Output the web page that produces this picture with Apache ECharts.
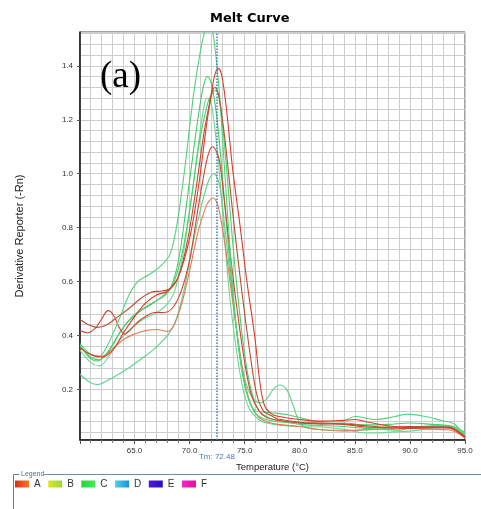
<!DOCTYPE html>
<html lang="en">
<head>
<meta charset="UTF-8">
<title>Melt Curve</title>
<script src="https://cdn.jsdelivr.net/npm/echarts@6/dist/echarts.min.js"></script>
<style>
  html, body { margin: 0; padding: 0; background: #fff; }
  #main { width: 481px; height: 509px; }
</style>
</head>
<body>
<div id="main"></div>
<script>
// legend entries (wells)
var wellNames = ['A', 'B', 'C', 'D', 'E', 'F'];
var tmValue = 72.48;

// melt curves, [temperature, derivative]
var curveA1 = [[60.05,0.355],[61,0.33],[62,0.32],[63,0.345],[64,0.41],[65,0.47],[66,0.52],[67,0.55],[68,0.565],[69,0.62],[70,0.76],[70.8,0.95],[71.5,1.17],[72.1,1.33],[72.35,1.375],[72.6,1.39],[72.85,1.375],[73.1,1.32],[73.4,1.22],[73.9,1.02],[74.6,0.8],[75.2,0.6],[75.9,0.4],[76.4,0.22],[76.8,0.14],[77.4,0.11],[78,0.1],[80,0.088],[82,0.082],[84,0.085],[85,0.088],[86,0.08],[88,0.065],[90,0.058],[92,0.06],[93.5,0.058],[95,0.025]];
var curveA2 = [[60.05,0.459],[60.8,0.44],[61.6,0.43],[62.5,0.44],[63.5,0.47],[64.5,0.5],[65.5,0.535],[66.5,0.56],[67.5,0.565],[68.3,0.575],[69,0.62],[69.8,0.75],[70.6,0.95],[71.3,1.15],[71.9,1.28],[72.1,1.31],[72.3,1.32],[72.5,1.31],[72.7,1.28],[73.2,1.13],[73.8,0.9],[74.4,0.68],[75,0.48],[75.6,0.3],[76.1,0.18],[76.7,0.12],[77.5,0.1],[78,0.09],[80,0.078],[82,0.075],[84,0.072],[86,0.065],[88,0.06],[90,0.062],[92,0.06],[93.5,0.06],[95,0.022]];
var curveA3 = [[60.05,0.418],[60.7,0.41],[61.4,0.425],[62,0.46],[62.6,0.492],[63.1,0.475],[63.6,0.43],[64.1,0.405],[64.6,0.42],[65.3,0.45],[66,0.47],[66.8,0.485],[67.6,0.485],[68.4,0.5],[69.2,0.56],[70,0.68],[70.8,0.88],[71.5,1.04],[71.8,1.085],[72.1,1.1],[72.4,1.085],[72.7,1.05],[73.1,0.92],[73.7,0.7],[74.3,0.5],[75,0.3],[75.6,0.18],[76.3,0.12],[77,0.095],[78,0.085],[80,0.075],[82,0.072],[84,0.07],[86,0.06],[88,0.058],[90,0.055],[92,0.058],[93.5,0.057],[95,0.02]];
var curveA4 = [[60.05,0.355],[61,0.33],[62,0.322],[63,0.35],[64,0.385],[65,0.405],[66,0.418],[67,0.422],[68,0.415],[68.6,0.44],[69.3,0.52],[70,0.64],[70.8,0.79],[71.5,0.88],[71.8,0.9],[72.1,0.91],[72.4,0.9],[72.7,0.86],[73.2,0.74],[73.8,0.56],[74.4,0.38],[75,0.23],[75.6,0.14],[76.3,0.095],[77,0.08],[78,0.07],[80,0.062],[82,0.05],[84,0.048],[86,0.05],[88,0.052],[90,0.055],[92,0.052],[93.5,0.05],[95,0.02]];
var curveC1 = [[60.05,0.37],[61,0.33],[61.7,0.32],[62.5,0.36],[63.5,0.45],[64.5,0.55],[65.3,0.6],[66.3,0.625],[67.3,0.655],[68.2,0.7],[68.8,0.8],[69.5,1.0],[70.35,1.29],[71,1.46],[71.5,1.545],[71.8,1.56],[72.2,1.5],[72.7,1.3],[73.2,1.0],[73.7,0.7],[74.2,0.45],[74.8,0.26],[75.4,0.16],[76,0.12],[76.8,0.115],[77.5,0.113],[79,0.105],[80.7,0.088],[82,0.08],[83.7,0.08],[85,0.099],[86.9,0.088],[88.5,0.098],[89.8,0.108],[91.3,0.1],[92.8,0.085],[94,0.072],[95,0.025]];
var curveC2 = [[60.05,0.36],[61,0.315],[61.6,0.305],[62.5,0.335],[63.5,0.4],[64.5,0.455],[65.5,0.49],[66.5,0.515],[67.5,0.545],[68.3,0.58],[69,0.68],[69.7,0.88],[70.4,1.1],[71,1.27],[71.35,1.34],[71.6,1.36],[71.85,1.35],[72.1,1.31],[72.5,1.2],[73.0,0.98],[73.5,0.74],[74.1,0.48],[74.7,0.28],[75.3,0.17],[76,0.11],[76.8,0.09],[78,0.08],[80,0.075],[82,0.072],[84,0.075],[86,0.068],[88,0.07],[90,0.075],[92,0.07],[93.5,0.065],[95,0.025]];
var curveC3 = [[60.05,0.345],[61,0.3],[61.8,0.287],[62.8,0.33],[63.8,0.39],[64.8,0.43],[65.8,0.46],[66.8,0.48],[67.8,0.51],[68.6,0.56],[69.4,0.7],[70.2,0.92],[70.9,1.14],[71.35,1.26],[71.6,1.28],[71.85,1.27],[72.1,1.23],[72.6,1.05],[73.1,0.8],[73.6,0.56],[74.2,0.36],[74.8,0.21],[75.4,0.13],[76.2,0.09],[77,0.075],[78,0.068],[80,0.062],[82,0.06],[84,0.052],[85.5,0.04],[87,0.038],[88.5,0.042],[90,0.045],[92,0.055],[93.5,0.06],[95,0.03]];
var curveC4 = [[60.05,0.256],[61,0.225],[61.6,0.218],[62.5,0.232],[63.5,0.255],[64.5,0.28],[65.5,0.31],[66.5,0.34],[67.3,0.37],[68,0.4],[68.7,0.45],[69.5,0.57],[70.3,0.74],[71,0.87],[71.6,0.96],[71.9,0.99],[72.2,1.0],[72.5,0.985],[72.8,0.94],[73.2,0.8],[73.8,0.58],[74.4,0.38],[75,0.24],[75.7,0.17],[76.4,0.15],[77,0.165],[77.6,0.2],[78.2,0.216],[78.8,0.2],[79.4,0.14],[80,0.075],[80.6,0.058],[82,0.05],[84,0.045],[86,0.05],[88,0.055],[90,0.06],[92,0.062],[93.5,0.062],[95,0.035]];
var curveC5 = [[60.05,0.365],[61,0.32],[61.8,0.31],[62.8,0.35],[63.8,0.42],[64.8,0.47],[65.8,0.5],[66.8,0.525],[67.8,0.55],[68.6,0.6],[69.4,0.72],[70.2,0.92],[70.9,1.12],[71.7,1.27],[72.1,1.3],[72.35,1.31],[72.6,1.295],[72.9,1.22],[73.4,1.0],[73.9,0.75],[74.5,0.5],[75.1,0.3],[75.7,0.18],[76.4,0.115],[77.2,0.095],[78,0.085],[80,0.07],[82,0.066],[84,0.062],[86,0.055],[88,0.05],[89,0.048],[90,0.058],[92,0.065],[93.5,0.066],[95,0.04]];

var font = 'Liberation Sans, Arial, sans-serif';

function grad(c1, c2) {
    return new echarts.graphic.LinearGradient(0, 0, 1, 0, [
        { offset: 0, color: c1 }, { offset: 1, color: c2 }
    ]);
}
var legendColors = [
    grad('#e02a1a', '#f07a2a'),
    grad('#e0e62a', '#96d83a'),
    grad('#1ed83c', '#4be65a'),
    grad('#4ad2ea', '#2092d2'),
    grad('#4a1ae0', '#2a10b8'),
    grad('#f02ac8', '#e0129a')
];

function curve(name, data, color) {
    return {
        name: name, type: 'line', data: data, smooth: 0.35,
        showSymbol: false, symbol: 'none', clip: true,
        lineStyle: { width: 1.1, color: color }, itemStyle: { color: color }
    };
}

var series = [
    curve('C', curveC3, '#6ad993'),
    curve('C', curveC4, '#5ad48a'),
    curve('A', curveA4, '#e57a52'),
    curve('C', curveC2, '#45cd68'),
    curve('C', curveC5, '#4cd070'),
    curve('A', curveA3, '#d2432f'),
    curve('C', curveC1, '#52d27c'),
    curve('A', curveA2, '#b5502f'),
    curve('A', curveA1, '#e0392b')
];
// Tm marker line
series[0].markLine = {
    silent: true, symbol: 'none', animation: false,
    lineStyle: { color: '#3f7fc0', width: 1.5, type: 'dotted' },
    label: { show: true, position: 'start', distance: 13, formatter: 'Tm: ' + tmValue.toFixed(2),
             color: '#4a78b0', fontSize: 8, fontFamily: font },
    data: [{ xAxis: tmValue }]
};
// empty wells, only for the legend
['B', 'D', 'E', 'F'].forEach(function (n) {
    series.push({ name: n, type: 'line', data: [] });
});

var chart = echarts.init(document.getElementById('main'));
chart.setOption({
    animation: false,
    backgroundColor: '#fff',
    title: [
        { text: 'Melt Curve', left: 210, top: 12, padding: 0,
          textStyle: { fontFamily: 'DejaVu Sans', fontWeight: 'bold', fontSize: 13, color: '#000' } },
        { text: '(a)', left: 100, top: 59, padding: 0,
          textStyle: { fontFamily: 'Liberation Serif, Times New Roman, serif', fontWeight: 'normal', fontSize: 37, color: '#000' } }
    ],
    legend: {
        left: 15, top: 479, padding: 0, itemGap: 7.5, itemWidth: 14, itemHeight: 7,
        icon: 'rect', selectedMode: false,
        textStyle: { fontFamily: font, fontSize: 10, color: '#333' },
        data: wellNames.map(function (n, i) {
            return { name: n, itemStyle: { color: legendColors[i] } };
        })
    },
    grid: { left: 80, right: 16, top: 32, bottom: 69, show: true, borderColor: '#444', borderWidth: 1 },
    xAxis: {
        type: 'value', min: 60.05, max: 95, splitNumber: 7, minInterval: 5, maxInterval: 5,
        name: 'Temperature (°C)', nameLocation: 'middle', nameGap: 22,
        nameTextStyle: { fontFamily: font, fontSize: 9.5, color: '#222' },
        axisLine: { lineStyle: { color: '#111', width: 1.5 } },
        axisTick: { show: true, length: 4, lineStyle: { color: '#555' } },
        minorTick: { show: true, splitNumber: 5, length: 3, lineStyle: { color: '#777' } },
        axisLabel: { showMinLabel: false, margin: 7, fontFamily: font, fontSize: 8, color: '#333',
                     formatter: function (v) { return v.toFixed(1); } },
        splitLine: { show: true, lineStyle: { color: '#cdcdcd', width: 1 } },
        minorSplitLine: { show: true, lineStyle: { color: '#cdcdcd', width: 1 } }
    },
    yAxis: {
        type: 'value', min: 0.012, max: 1.526, splitNumber: 8, minInterval: 0.2, maxInterval: 0.2,
        name: 'Derivative Reporter (-Rn)', nameLocation: 'middle', nameGap: 55,
        nameTextStyle: { fontFamily: font, fontSize: 11, color: '#222' },
        axisLine: { show: true, lineStyle: { color: '#111', width: 1.5 } },
        axisTick: { show: true, length: 3, lineStyle: { color: '#555' } },
        minorTick: { show: false, splitNumber: 5 },
        axisLabel: { showMinLabel: false, showMaxLabel: false, margin: 7, fontFamily: font, fontSize: 8, color: '#333',
                     formatter: function (v) { return v.toFixed(1); } },
        splitLine: { show: true, lineStyle: { color: '#cdcdcd', width: 1 } },
        minorSplitLine: { show: true, lineStyle: { color: '#cdcdcd', width: 1 } }
    },
    graphic: [
        { type: 'polyline', silent: true, shape: { points: [[13.5, 509], [13.5, 474.5], [19, 474.5]] },
          style: { stroke: '#6a7c92', lineWidth: 1, fill: null } },
        { type: 'line', silent: true, shape: { x1: 44, y1: 474.5, x2: 481, y2: 474.5 },
          style: { stroke: '#6d8db3', lineWidth: 1 } },
        { type: 'text', silent: true,
          style: { x: 21, y: 474.5, text: 'Legend', font: '7px ' + font, fill: '#5a6a80', verticalAlign: 'middle' } }
    ],
    series: series
});
</script>
</body>
</html>
